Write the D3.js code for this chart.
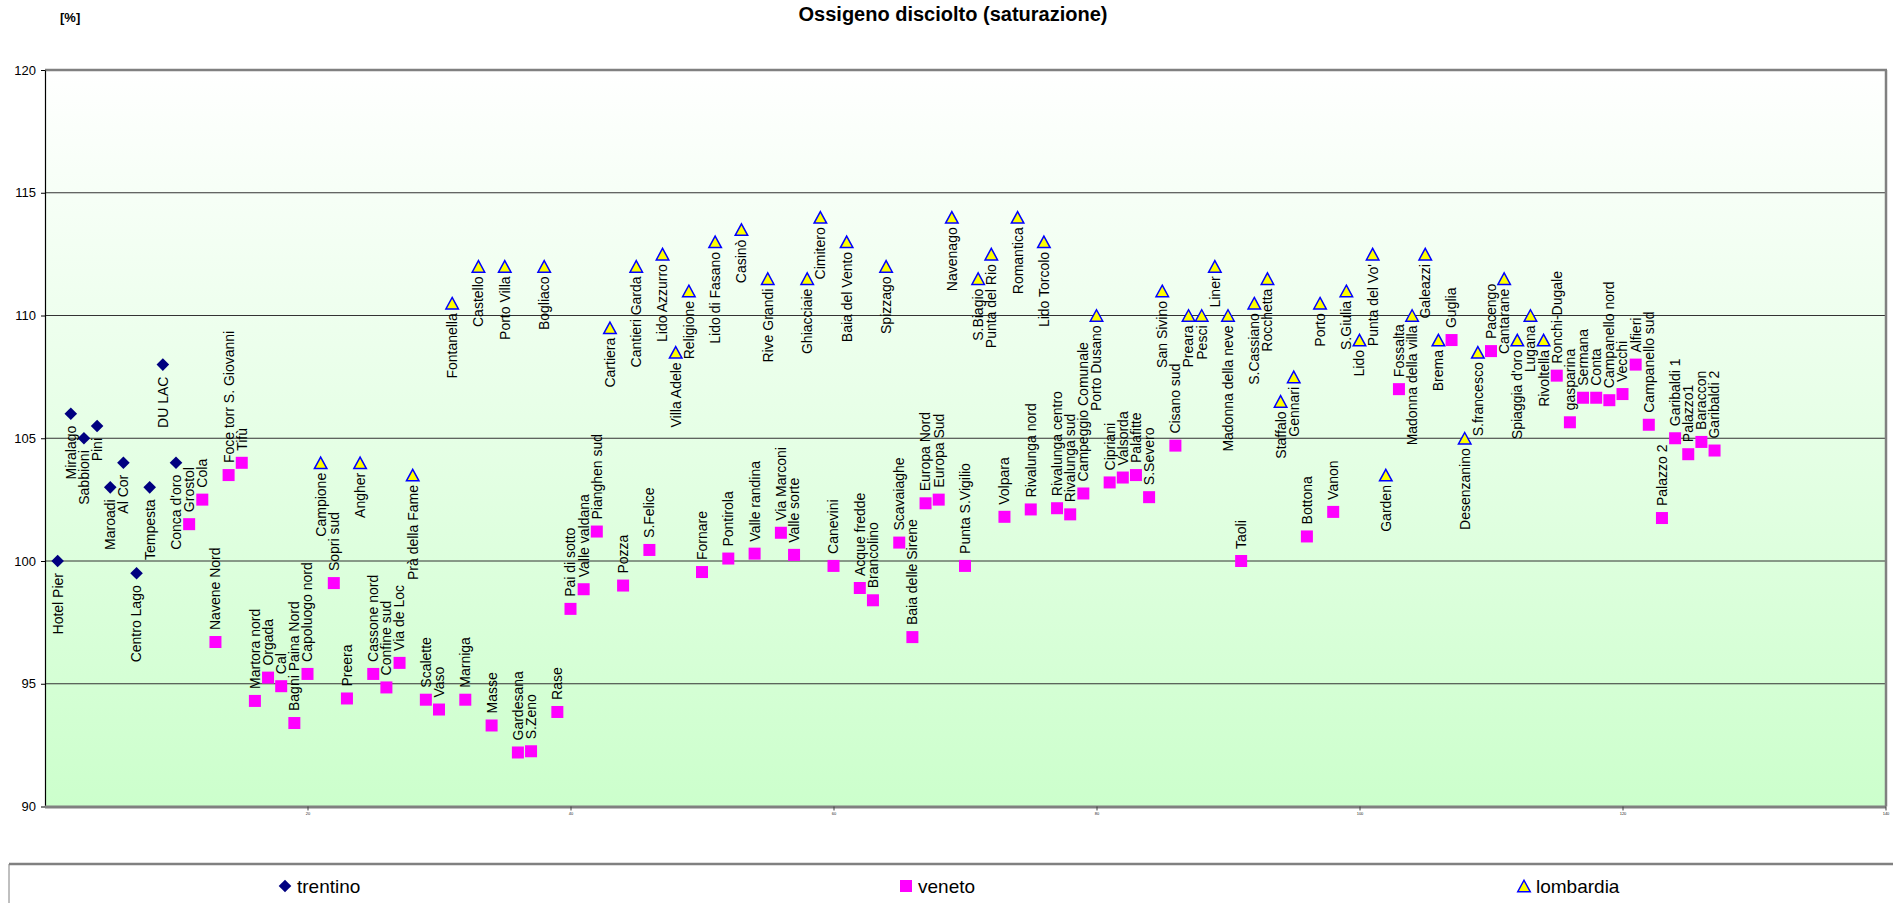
<!DOCTYPE html>
<html>
<head>
<meta charset="utf-8">
<script src="https://cdn.jsdelivr.net/npm/d3@7"></script>
<style>
  html, body { margin: 0; padding: 0; background: #ffffff; }
  svg { display: block; font-family: "Liberation Sans", Arial, sans-serif; }
</style>
</head>
<body>
<svg id="chart" width="1893" height="903"></svg>
<script>
// Stations along the lake shore, in sampling order
const stations = ["Hotel Pier","Miralago","Sabbioni","Pini","Maroadi","Al Cor","Centro Lago","Tempesta","DU LAC","Conca d'oro",
  "Grostol","Cola","Navene Nord","Foce torr S. Giovanni","Tifù","Martora nord","Orgada","Cal","Bagni Paina Nord","Capoluogo nord",
  "Campione","Sopri sud","Preera","Angher","Cassone nord","Confine sud","Via de Loc","Prà della Fame","Scalette","Vaso",
  "Fontanella","Marniga","Castello","Masse","Porto Villa","Gardesana","S.Zeno","Bogliaco","Rase","Pai di sotto",
  "Valle valdana","Pianghen sud","Cartiera","Pozza","Cantieri Garda","S.Felice","Lido Azzurro","Villa Adele","Religione","Fornare",
  "Lido di Fasano","Pontirola","Casinò","Valle randina","Rive Grandi","Via Marconi","Valle sorte","Ghiacciaie","Cimitero","Canevini",
  "Baia del Vento","Acque fredde","Brancolino","Spizzago","Scavaiaghe","Baia delle Sirene","Europa Nord","Europa Sud","Navenago","Punta S.Vigilio",
  "S.Biagio","Punta del Rio","Volpara","Romantica","Rivalunga nord","Lido Torcolo","Rivalunga centro","Rivalunga sud","Campeggio Comunale","Porto Dusano",
  "Cipriani","Valsorda","Palafitte","S.Severo","San Sivino","Cisano sud","Preara","Pesci","Liner","Madonna della neve",
  "Taoli","S.Cassiano","Rocchetta","Staffalo","Gennari","Bottona","Porto","Vanon","S.Giulia","Lido",
  "Punta del Vo'","Garden","Fossalta","Madonna della villa","Galeazzi","Brema","Guglia","Desenzanino","S.francesco","Pacengo",
  "Cantarane","Spiaggia d'oro","Lugana","Rivoltella","Ronchi-Dugale","gasparina","Sermana","Conta","Campanello nord","Vecchi",
  "Alfieri","Campanello sud","Palazzo 2","Garibaldi 1","Palazzo1","Baraccon","Garibaldi 2"];

// Region of each station: T = trentino, V = veneto, L = lombardia
const regions = ("TTTTTTTTTT" + "VVVVVVVVVV" +
  "LVVLVVVLVV" + "LVLVLVVLVV" + "VVLVLVLLLV" + "LVLVLVVLLV" +
  "LVVLVVVVLV" + "LLVLVLVVVL" + "VVVVLVLLLL" + "VLLLLVLVLL" +
  "LLVLLLVLLV" + "LLLLVVVVVV" + "VVVVVVV").split("");

// Dissolved oxygen saturation [%]
const saturation = [100, 106, 105, 105.5, 103, 104, 99.5, 103, 108, 104,
  101.5, 102.5, 96.7, 103.5, 104, 94.3, 95.25, 94.9, 93.4, 95.4,
  104, 99.1, 94.4, 104, 95.4, 94.85, 95.85, 103.5, 94.35, 93.95,
  110.5, 94.35, 112, 93.3, 112, 92.2, 92.25, 112, 93.85, 98.05,
  98.85, 101.2, 109.5, 99, 112, 100.45, 112.5, 108.5, 111, 99.55,
  113, 100.1, 113.5, 100.3, 111.5, 101.15, 100.25, 111.5, 114, 99.8,
  113, 98.9, 98.4, 112, 100.75, 96.9, 102.35, 102.5, 114, 99.8,
  111.5, 112.5, 101.8, 114, 102.1, 113, 102.15, 101.9, 102.75, 110,
  103.2, 103.4, 103.5, 102.6, 111, 104.7, 110, 110, 112, 110,
  100, 110.5, 111.5, 106.5, 107.5, 101, 110.5, 102, 111, 109,
  112.5, 103.5, 107, 110, 112.5, 109, 109, 105, 108.5, 108.55,
  111.5, 109, 110, 109, 107.55, 105.65, 106.65, 106.65, 106.55, 106.8,
  108, 105.55, 101.75, 105, 104.35, 104.85, 104.5];

const seriesNames = ["trentino", "veneto", "lombardia"];
const seriesCodes = ["T", "V", "L"];
const yTicks = [90, 95, 100, 105, 110, 115, 120];
const xTicks = [20, 40, 60, 80, 100, 120, 140];

const svg = d3.select("#chart");
const plot = { left: 45, right: 1886, top: 70, bottom: 806.5 };

const x = d3.scaleLinear().domain([0, 140]).range([44.5, 1885.5]);
const y = d3.scaleLinear().domain([90, 120]).range([plot.bottom, plot.top]);

// plot background: white fading to pale green
const defs = svg.append("defs");
const grad = defs.append("linearGradient").attr("id", "bg").attr("x1", 0).attr("y1", 0).attr("x2", 0).attr("y2", 1);
grad.append("stop").attr("offset", "0%").attr("stop-color", "#ffffff");
grad.append("stop").attr("offset", "100%").attr("stop-color", "#ccffcc");

svg.append("rect")
  .attr("x", plot.left).attr("y", plot.top)
  .attr("width", plot.right - plot.left).attr("height", plot.bottom - plot.top)
  .attr("fill", "url(#bg)");

// horizontal gridlines
svg.append("g").selectAll("line")
  .data(yTicks.filter(v => v > 90 && v < 120))
  .join("line")
  .attr("x1", plot.left).attr("x2", plot.right)
  .attr("y1", d => y(d)).attr("y2", d => y(d))
  .attr("stroke", "#333333").attr("stroke-width", 1);

// frame: grey top / right / bottom, black left
svg.append("line").attr("x1", plot.left).attr("x2", plot.right + 1)
  .attr("y1", y(120)).attr("y2", y(120)).attr("stroke", "#808080").attr("stroke-width", 2.5);
svg.append("line").attr("x1", plot.right).attr("x2", plot.right)
  .attr("y1", plot.top).attr("y2", plot.bottom).attr("stroke", "#808080").attr("stroke-width", 2.5);

// y axis
const yAxis = svg.append("g")
  .attr("transform", `translate(${plot.left},0)`)
  .call(d3.axisLeft(y).tickValues(yTicks).tickSize(4).tickSizeOuter(0).tickFormat(d3.format("d")));
yAxis.select(".domain").attr("stroke", "#000").attr("stroke-width", 1.2);
yAxis.selectAll(".tick line").attr("stroke", "#000");
yAxis.selectAll(".tick text").attr("font-size", 13).attr("fill", "#000")
  .attr("font-family", "'Liberation Sans', Arial, sans-serif").attr("x", -9);

// x axis (category marks only, labels are minute)
const xAxis = svg.append("g")
  .attr("transform", `translate(0,${plot.bottom})`)
  .call(d3.axisBottom(x).tickValues(xTicks).tickSize(4).tickSizeOuter(0));
xAxis.select(".domain").attr("stroke", "#808080").attr("stroke-width", 3);
xAxis.selectAll(".tick line").attr("stroke", "#404040");
xAxis.selectAll(".tick text").attr("font-size", 4).attr("fill", "#222").attr("y", 6);

// marker shapes
function diamondPath(cx, cy, r) {
  return `M${cx},${cy - r}L${cx + r},${cy}L${cx},${cy + r}L${cx - r},${cy}Z`;
}
function trianglePath(cx, cy, w, h) {
  return `M${cx},${cy - h / 2}L${cx + w / 2},${cy + h / 2}L${cx - w / 2},${cy + h / 2}Z`;
}
function drawMarker(g, code, cx, cy) {
  if (code === "T") {
    g.append("path").attr("d", diamondPath(cx, cy, 6.3)).attr("fill", "#000080");
  } else if (code === "V") {
    g.append("rect").attr("x", cx - 6).attr("y", cy - 6).attr("width", 12).attr("height", 12)
      .attr("fill", "#ff00ff");
  } else {
    g.append("path").attr("d", trianglePath(cx, cy, 12.5, 11.5))
      .attr("fill", "#ffff00").attr("stroke", "#0000ff").attr("stroke-width", 1.5)
      .attr("stroke-linejoin", "miter");
  }
}

const points = stations.map((name, i) => ({
  name, idx: i + 1, code: regions[i], value: saturation[i]
}));

// markers
const markerLayer = svg.append("g");
points.forEach(p => drawMarker(markerLayer, p.code, x(p.idx), y(p.value)));

// rotated station labels: veneto above the marker, the others below
const labelLayer = svg.append("g").attr("font-size", 14).attr("fill", "#000");
points.forEach(p => {
  const cx = x(p.idx), cy = y(p.value);
  const above = p.code === "V";
  const gap = p.code === "L" ? 10 : 12;
  const ly = above ? cy - gap : cy + gap;
  labelLayer.append("text")
    .attr("transform", `translate(${cx},${ly}) rotate(-90)`)
    .attr("dy", "0.35em")
    .attr("text-anchor", above ? "start" : "end")
    .text(p.name);
});

// title and unit
svg.append("text").attr("x", 953).attr("y", 21).attr("text-anchor", "middle")
  .attr("font-size", 20).attr("font-weight", "bold").text("Ossigeno disciolto (saturazione)");
svg.append("text").attr("x", 60).attr("y", 22)
  .attr("font-size", 13).attr("font-weight", "bold").text("[%]");

// legend
const legend = svg.append("g");
legend.append("rect").attr("x", 9).attr("y", 864).attr("width", 1893).attr("height", 60)
  .attr("fill", "#ffffff").attr("stroke", "none");
legend.append("line").attr("x1", 9).attr("x2", 1893).attr("y1", 864).attr("y2", 864)
  .attr("stroke", "#808080").attr("stroke-width", 2.5);
legend.append("line").attr("x1", 9).attr("x2", 9).attr("y1", 864).attr("y2", 903)
  .attr("stroke", "#808080").attr("stroke-width", 1);
const legendX = [285, 906, 1524];
seriesNames.forEach((name, i) => {
  drawMarker(legend, seriesCodes[i], legendX[i], 886);
  legend.append("text").attr("x", legendX[i] + 12).attr("y", 893)
    .attr("font-size", 19).attr("fill", "#000").text(name);
});
</script>
</body>
</html>
